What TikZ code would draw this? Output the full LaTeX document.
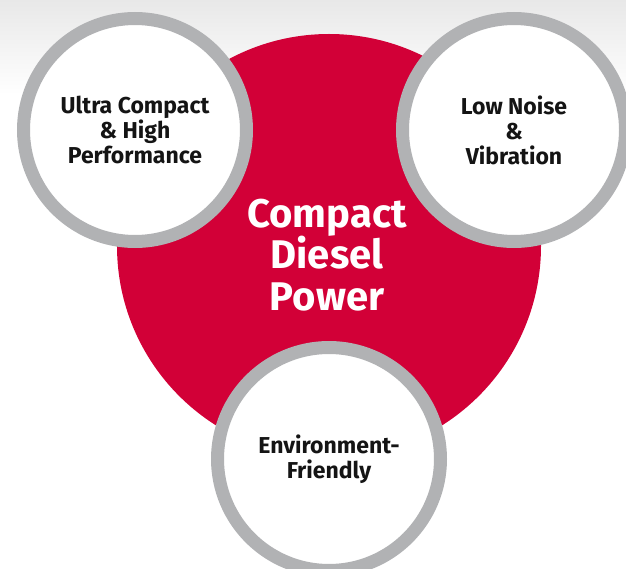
\documentclass[tikz,border=0pt]{standalone}
\usepackage{fontspec}
\setmainfont{Fira Sans}
\usepackage{tikz}
\usetikzlibrary{positioning}
\definecolor{dieselred}{HTML}{D20037}
\definecolor{ringgray}{HTML}{B1B2B4}
\definecolor{textblack}{HTML}{141414}

\begin{document}
\begin{tikzpicture}[x=1pt,y=-1pt]
  \tikzstyle{hub}=[circle,fill=dieselred,minimum size=424pt,inner sep=0pt]
  \tikzstyle{feature}=[circle,draw=ringgray,line width=13pt,fill=white,
                       minimum size=223pt,inner sep=0pt,align=center,
                       text=textblack,font=\fontsize{23}{25}\selectfont\bfseries]
  \tikzstyle{title}=[align=center,text=white,
                     font=\fontsize{40}{41.5}\selectfont\bfseries]

  \useasboundingbox (0,0) rectangle (626,569);
  \shade[top color=black!9,bottom color=white] (0,0) rectangle (626,95);

  \node[hub] (P) at (329,246) {};
  \node[title] (T) at (327,255) {Compact\\Diesel\\Power};

  \node[feature] (U) at (135,130) {Ultra Compact\\\& High\\Performance};
  \node[feature] (L) at (514,130) {Low Noise\\\&\\Vibration};
  \node[feature] (E) at (329,459) {Environment-\\Friendly};
\end{tikzpicture}
\end{document}
